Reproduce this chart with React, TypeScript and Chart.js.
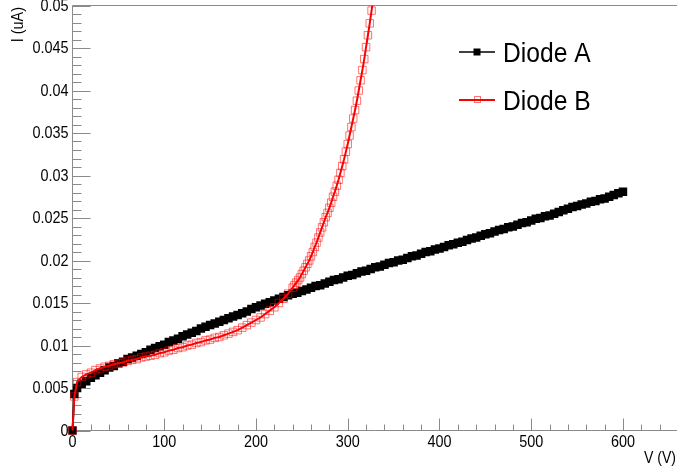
import React, { useEffect, useRef } from 'react';
import { Chart, registerables } from 'chart.js';

Chart.register(...registerables);

const voltsA = [
  0, 2, 5, 10, 15, 20, 25, 30, 35, 40, 45, 50, 55, 60, 65, 70, 75, 80, 85, 90, 95,
  100, 105, 110, 115, 120, 125, 130, 135, 140, 145, 150, 155, 160, 165, 170, 175, 180, 185, 190, 195,
  200, 205, 210, 215, 220, 225, 230, 235, 240, 245, 250, 255, 260, 265, 270, 275, 280, 285, 290, 295,
  300, 305, 310, 315, 320, 325, 330, 335, 340, 345, 350, 355, 360, 365, 370, 375, 380, 385, 390, 395,
  400, 405, 410, 415, 420, 425, 430, 435, 440, 445, 450, 455, 460, 465, 470, 475, 480, 485, 490, 495,
  500, 505, 510, 515, 520, 525, 530, 535, 540, 545, 550, 555, 560, 565, 570, 575, 580, 585, 590, 595,
  600,
];
const currentA = [
  0, 0.0043, 0.005, 0.0055, 0.0058, 0.0062, 0.0065, 0.0068, 0.0071, 0.0074, 0.0076, 0.0079, 0.0081, 0.0084, 0.0086, 0.0088, 0.009, 0.0092, 0.0095, 0.0097, 0.0099,
  0.0101, 0.0104, 0.0106, 0.0108, 0.0111, 0.0113, 0.0115, 0.0117, 0.012, 0.0122, 0.0124, 0.0126, 0.0128, 0.013, 0.0132, 0.0134, 0.0136, 0.0138, 0.014, 0.0143,
  0.0145, 0.0147, 0.0149, 0.0151, 0.0153, 0.0155, 0.0157, 0.0159, 0.0161, 0.0162, 0.0164, 0.0166, 0.0168, 0.017, 0.0171, 0.0173, 0.0175, 0.0177, 0.0178, 0.018,
  0.0182, 0.0183, 0.0185, 0.0187, 0.0188, 0.019, 0.0192, 0.0193, 0.0195, 0.0197, 0.0198, 0.02, 0.0201, 0.0203, 0.0205, 0.0206, 0.0208, 0.021, 0.0211, 0.0213,
  0.0214, 0.0216, 0.0218, 0.0219, 0.0221, 0.0222, 0.0224, 0.0226, 0.0227, 0.0229, 0.0231, 0.0232, 0.0234, 0.0236, 0.0237, 0.0239, 0.024, 0.0242, 0.0244, 0.0245,
  0.0247, 0.0249, 0.025, 0.0252, 0.0253, 0.0255, 0.0257, 0.0259, 0.0261, 0.0263, 0.0264, 0.0266, 0.0267, 0.0269, 0.027, 0.0272, 0.0273, 0.0275, 0.0277, 0.0279,
  0.0281,
];

const voltsB = [
  0, 2, 5, 10, 15, 20, 25, 30, 35, 40, 45, 50, 55, 60, 65, 70, 75, 80, 85, 90, 95,
  100, 105, 110, 115, 120, 125, 130, 135, 140, 145, 150, 155, 160, 165, 170, 175, 180, 185, 190, 195,
  200, 205, 210, 215, 220, 225, 230, 235,
  240, 242, 244, 246, 248, 250, 252, 254, 256, 258, 260, 262, 264, 266, 268, 270, 272, 274, 276, 278,
  280, 282, 284, 286, 288, 290, 292, 294, 296, 298, 300, 302, 304, 306, 308, 310, 312, 314, 316, 318,
  320, 322, 324, 326, 328, 330,
];
const currentB = [
  0, 0.004, 0.0057, 0.0063, 0.0066, 0.0068, 0.0071, 0.0073, 0.0075, 0.0076, 0.0078, 0.0079, 0.008, 0.0082, 0.0083, 0.0084, 0.0086, 0.0087, 0.0088, 0.0089, 0.0091,
  0.0092, 0.0094, 0.0095, 0.0097, 0.0098, 0.01, 0.0101, 0.0103, 0.0104, 0.0106, 0.0107, 0.0109, 0.011, 0.0112, 0.0114, 0.0116, 0.0118, 0.0121, 0.0124, 0.0127,
  0.013, 0.0133, 0.0137, 0.0141, 0.0145, 0.015, 0.0155, 0.0161,
  0.0168, 0.0171, 0.0174, 0.0177, 0.018, 0.0184, 0.0188, 0.0192, 0.0196, 0.02, 0.0205, 0.021, 0.0216, 0.0221, 0.0227, 0.0233, 0.0239, 0.0245, 0.0251, 0.0256,
  0.0262, 0.0268, 0.0275, 0.0281, 0.0288, 0.0295, 0.0303, 0.0311, 0.0319, 0.0328, 0.0337, 0.0347, 0.0357, 0.0367, 0.0377, 0.0388, 0.04, 0.0412, 0.0424, 0.0437,
  0.0451, 0.0465, 0.0479, 0.0494, 0.0509, 0.0525,
];

const seriesNames = ['Diode A', 'Diode B'];
const xMajorTicks = [0, 100, 200, 300, 400, 500, 600];
const xTickLabels = ['0', '100', '200', '300', '400', '500', '600'];
const yMajorTicks = [0, 0.005, 0.01, 0.015, 0.02, 0.025, 0.03, 0.035, 0.04, 0.045, 0.05];
const yTickLabels = ['0', '0.005', '0.01', '0.015', '0.02', '0.025', '0.03', '0.035', '0.04', '0.045', '0.05'];
const xTitle = 'V (V)';
const yTitle = 'I (uA)';

const FONT = '"Liberation Sans", Arial, sans-serif';
const AXIS_COLOR = '#8a8a8a';
const SQUEEZE = 0.9;

function squeezedText(ctx: CanvasRenderingContext2D, text: string, x: number, y: number, size: number, align: CanvasTextAlign, baseline: CanvasTextBaseline, rot = 0, sq = SQUEEZE) {
  ctx.save();
  ctx.translate(x, y);
  if (rot) ctx.rotate(rot);
  ctx.scale(sq, 1);
  ctx.font = `${size}px ${FONT}`;
  ctx.textAlign = align;
  ctx.textBaseline = baseline;
  ctx.fillStyle = '#000';
  ctx.fillText(text, 0, 0);
  ctx.restore();
}

const rootFrame = {
  id: 'rootFrame',
  beforeDatasetsDraw(chart: any) {
    const { ctx, chartArea: a, scales } = chart;
    const xs = scales.x;
    const ys = scales.y;
    ctx.save();
    ctx.strokeStyle = AXIS_COLOR;
    ctx.lineWidth = 1;
    ctx.beginPath();
    ctx.moveTo(a.left, a.top);
    ctx.lineTo(a.right, a.top);
    ctx.lineTo(a.right, a.bottom);
    ctx.lineTo(a.left, a.bottom);
    ctx.closePath();
    // x ticks (inside, pointing up)
    for (let v = 0; v <= xs.max + 1e-9; v += 20) {
      const px = Math.round(xs.getPixelForValue(v)) + 0.5;
      const major = xMajorTicks.includes(Math.round(v));
      ctx.moveTo(px, a.bottom);
      ctx.lineTo(px, a.bottom - (major ? 12 : 6));
    }
    // y ticks (inside, pointing right)
    for (let k = 0; k <= 50; k++) {
      const v = k / 1000;
      const py = Math.round(ys.getPixelForValue(v)) + 0.5;
      const major = k % 5 === 0;
      ctx.moveTo(a.left, py);
      ctx.lineTo(a.left + (major ? 18 : 9), py);
    }
    ctx.stroke();
    ctx.restore();
  },
  afterDraw(chart: any) {
    const { ctx, scales } = chart;
    const xs = scales.x;
    const ys = scales.y;
    // tick labels
    xMajorTicks.forEach((v, i) => {
      squeezedText(ctx, xTickLabels[i], xs.getPixelForValue(v), 443, 16, 'center', 'middle');
    });
    yMajorTicks.forEach((v, i) => {
      squeezedText(ctx, yTickLabels[i], 68.5, ys.getPixelForValue(v) + 1, 16, 'right', 'middle');
    });
    // axis titles
    squeezedText(ctx, xTitle, 676, 463, 16, 'right', 'alphabetic', 0, 0.88);
    squeezedText(ctx, yTitle, 23, 7, 17, 'right', 'alphabetic', -Math.PI / 2, 0.85);

    // legend
    ctx.save();
    const rows = [
      { y: 52, color: '#000', name: seriesNames[0], filled: true },
      { y: 100, color: '#ff0000', name: seriesNames[1], filled: false },
    ];
    rows.forEach((r) => {
      ctx.strokeStyle = r.color;
      ctx.lineWidth = r.filled ? 1.5 : 2;
      ctx.beginPath();
      ctx.moveTo(459, r.y);
      ctx.lineTo(495, r.y);
      ctx.stroke();
      if (r.filled) {
        ctx.fillStyle = '#000';
        ctx.fillRect(473.5, r.y - 3.5, 7, 7);
      } else {
        ctx.strokeStyle = 'rgba(255,0,0,0.55)';
        ctx.lineWidth = 1;
        ctx.strokeRect(474.5, r.y - 3.5, 6, 6);
      }
      squeezedText(ctx, r.name, 503, r.y + 10, 28, 'left', 'alphabetic', 0, 0.88);
    });
    ctx.restore();
  },
};

export default function App() {
  const canvasRef = useRef<HTMLCanvasElement | null>(null);

  useEffect(() => {
    document.body.style.margin = '0';
    document.body.style.overflow = 'hidden';
    const canvas = canvasRef.current;
    if (!canvas) return;
    const dataA = voltsA.map((v, i) => ({ x: v, y: currentA[i] }));
    const dataB = voltsB.map((v, i) => ({ x: v, y: currentB[i] }));
    const chart = new Chart(canvas, {
      type: 'scatter',
      data: {
        datasets: [
          {
            label: seriesNames[0],
            data: dataA,
            showLine: true,
            order: 2,
            borderColor: '#000',
            borderWidth: 2,
            pointStyle: 'rect',
            pointRadius: 6,
            pointBackgroundColor: '#000',
            pointBorderColor: '#000',
            pointBorderWidth: 0,
            clip: { left: 8, top: 0, right: 0, bottom: 8 } as any,
          },
          {
            label: seriesNames[1],
            data: dataB,
            showLine: true,
            order: 1,
            borderColor: '#ff0000',
            borderWidth: 2,
            pointStyle: 'rect',
            pointRadius: 5.3,
            pointBackgroundColor: 'rgba(0,0,0,0)',
            pointBorderColor: 'rgba(255,0,0,0.55)',
            pointBorderWidth: 1,
            clip: { left: 8, top: 0, right: 0, bottom: 8 } as any,
          },
        ],
      },
      options: {
        responsive: false,
        animation: false,
        devicePixelRatio: 1,
        layout: { autoPadding: false, padding: { top: 5.5, right: 0, left: 0, bottom: 0 } },
        plugins: { legend: { display: false }, tooltip: { enabled: false } },
        events: [],
        scales: {
          x: {
            type: 'linear',
            min: 0,
            max: 660,
            grid: { display: false },
            border: { display: false },
            ticks: { display: false },
            afterFit: (s: any) => {
              s.height = 43.5;
            },
          },
          y: {
            type: 'linear',
            min: 0,
            max: 0.05,
            grid: { display: false },
            border: { display: false },
            ticks: { display: false },
            afterFit: (s: any) => {
              s.width = 72.5;
            },
          },
        },
      },
      plugins: [rootFrame],
    });
    return () => chart.destroy();
  }, []);

  return (
    <div style={{ position: 'fixed', left: 0, top: 0, width: 677, height: 474, overflow: 'hidden', background: '#fff' }}>
      <canvas ref={canvasRef} width={678} height={474} style={{ display: 'block' }} />
    </div>
  );
}
